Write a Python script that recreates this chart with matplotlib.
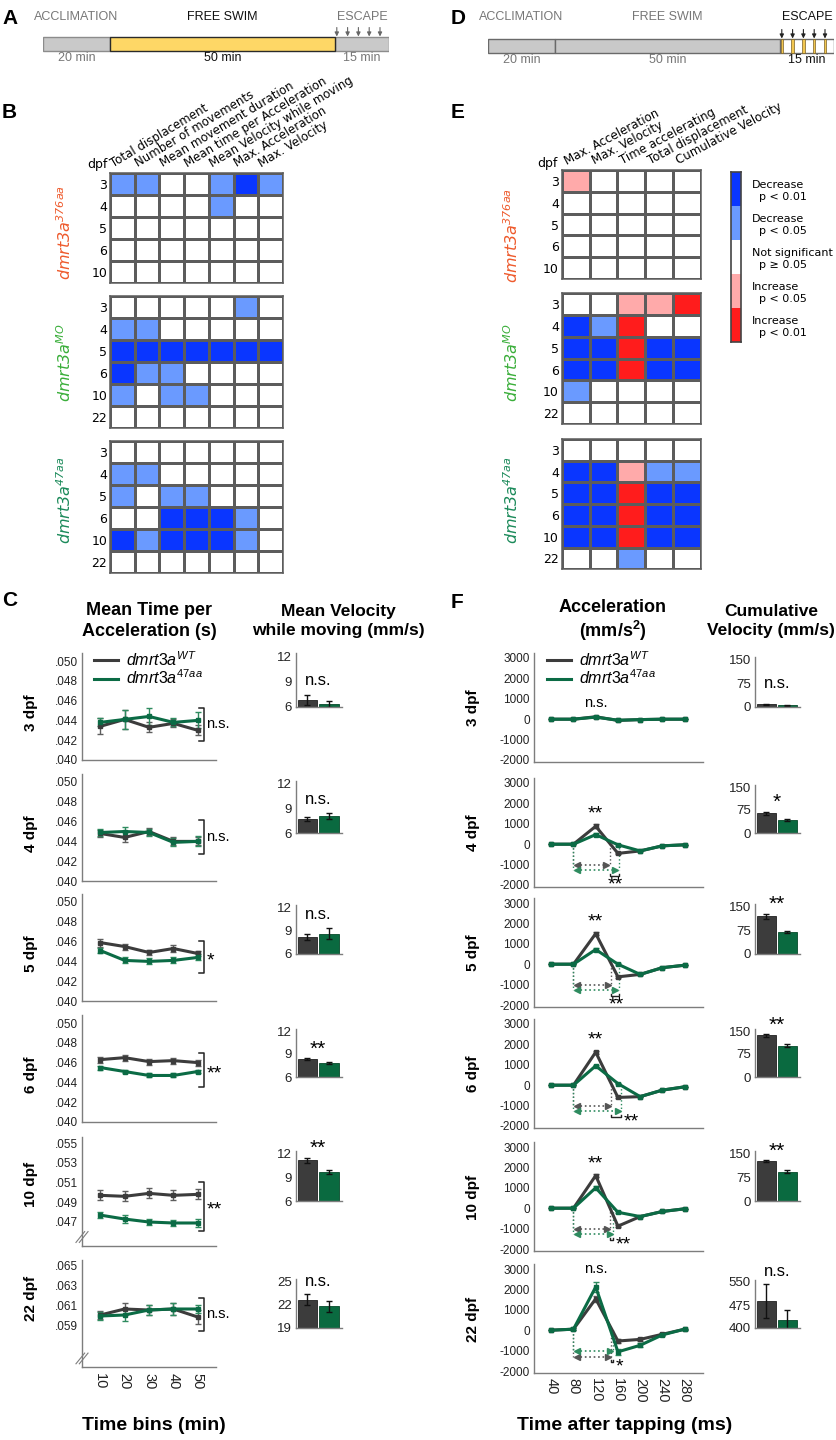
import numpy as np
import matplotlib
matplotlib.use('Agg')
import matplotlib.pyplot as plt
from matplotlib.colors import ListedColormap, BoundaryNorm
from matplotlib import font_manager

plt.rcParams['font.family'] = ['Liberation Sans', 'DejaVu Sans']
plt.rcParams['axes.unicode_minus'] = False
plt.rcParams['mathtext.fontset'] = 'custom'
plt.rcParams['mathtext.rm'] = 'Liberation Sans'
plt.rcParams['mathtext.it'] = 'Liberation Sans:italic'
plt.rcParams['mathtext.bf'] = 'Liberation Sans:bold'
plt.rcParams['mathtext.sf'] = 'DejaVu Sans:italic'

installed = set(f.name for f in font_manager.fontManager.ttflist)
narrow = 'Liberation Sans Narrow' if 'Liberation Sans Narrow' in installed else 'Liberation Sans'
tl_size = 10 if narrow == 'Liberation Sans Narrow' else 9

# ---------------- data ----------------
phases = ['ACCLIMATION', 'FREE SWIM', 'ESCAPE']
phase_min = [20, 50, 15]
tap_min = [0.5, 3.5, 6.5, 9.5, 12.5]      # taps, minutes into escape phase

free_params = ['Total displacement', 'Number of movements', 'Mean movement duration',
               'Mean time per Acceleration', 'Mean Velocity while moving',
               'Max. Acceleration', 'Max. Velocity']
esc_params = ['Max. Acceleration', 'Max. Velocity', 'Time accelerating',
              'Total displacement', 'Cumulative Velocity']
days_376 = ['3', '4', '5', '6', '10']
days_all = ['3', '4', '5', '6', '10', '22']

# -2 decrease p<0.01, -1 decrease p<0.05, 0 n.s., 1 increase p<0.05, 2 increase p<0.01
free_376 = [[-1, -1, 0, 0, -1, -2, -1],
            [0, 0, 0, 0, -1, 0, 0],
            [0, 0, 0, 0, 0, 0, 0],
            [0, 0, 0, 0, 0, 0, 0],
            [0, 0, 0, 0, 0, 0, 0]]
free_mo = [[0, 0, 0, 0, 0, -1, 0],
           [-1, -1, 0, 0, 0, 0, 0],
           [-2, -2, -2, -2, -2, -2, -2],
           [-2, -1, -1, 0, 0, 0, 0],
           [-1, 0, -1, -1, 0, 0, 0],
           [0, 0, 0, 0, 0, 0, 0]]
free_47 = [[0, 0, 0, 0, 0, 0, 0],
           [-1, -1, 0, 0, 0, 0, 0],
           [-1, 0, -1, -1, 0, 0, 0],
           [0, 0, -2, -2, -2, -1, 0],
           [-2, -1, -2, -2, -2, -1, 0],
           [0, 0, 0, 0, 0, 0, 0]]
esc_376 = [[1, 0, 0, 0, 0],
           [0, 0, 0, 0, 0],
           [0, 0, 0, 0, 0],
           [0, 0, 0, 0, 0],
           [0, 0, 0, 0, 0]]
esc_mo = [[0, 0, 1, 1, 2],
          [-2, -1, 2, 0, 0],
          [-2, -2, 2, -2, -2],
          [-2, -2, 2, -2, -2],
          [-1, 0, 0, 0, 0],
          [0, 0, 0, 0, 0]]
esc_47 = [[0, 0, 0, 0, 0],
          [-2, -2, 1, -1, -1],
          [-2, -2, 2, -2, -2],
          [-2, -2, 2, -2, -2],
          [-2, -2, 2, -2, -2],
          [0, 0, -1, 0, 0]]
sig_labels = ['Decrease\n  p < 0.01', 'Decrease\n  p < 0.05', 'Not significant\n  p \u2265 0.05',
              'Increase\n  p < 0.05', 'Increase\n  p < 0.01']

line_names = [r'$\mathsf{dmrt3a}^{\mathsf{376aa}}$', r'$\mathsf{dmrt3a}^{\mathsf{MO}}$',
              r'$\mathsf{dmrt3a}^{\mathsf{47aa}}$']
line_cols = ['#ee5a2c', '#3aae3a', '#1b8a5a']

dpf_rows = ['3 dpf', '4 dpf', '5 dpf', '6 dpf', '10 dpf', '22 dpf']

# C: mean time per acceleration (s), 10-min bins
bins = [10, 20, 30, 40, 50]
mtpa_wt = [[0.0434, 0.0441, 0.0433, 0.0437, 0.0430],
           [0.0448, 0.0444, 0.0450, 0.0440, 0.0440],
           [0.0459, 0.0455, 0.0449, 0.0453, 0.0448],
           [0.0463, 0.0465, 0.0461, 0.0462, 0.0460],
           [0.0497, 0.0496, 0.0499, 0.0497, 0.0498],
           [0.0601, 0.0607, 0.0606, 0.0607, 0.0599]]
mtpa_wt_err = [[0.0008, 0.0010, 0.0005, 0.0004, 0.0005],
               [0.0004, 0.0005, 0.0004, 0.0004, 0.0004],
               [0.0004, 0.0003, 0.0003, 0.0004, 0.0003],
               [0.0003, 0.0003, 0.0003, 0.0003, 0.0003],
               [0.0005, 0.0005, 0.0005, 0.0005, 0.0005],
               [0.0004, 0.0006, 0.0005, 0.0006, 0.0007]]
mtpa_mut = [[0.0438, 0.0441, 0.0444, 0.0438, 0.0440],
            [0.0449, 0.0450, 0.0449, 0.0439, 0.0440],
            [0.0451, 0.0441, 0.0440, 0.0441, 0.0444],
            [0.0455, 0.0451, 0.0447, 0.0447, 0.0451],
            [0.0477, 0.0473, 0.0470, 0.0469, 0.0469],
            [0.0600, 0.0601, 0.0606, 0.0607, 0.0607]]
mtpa_mut_err = [[0.0004, 0.0010, 0.0009, 0.0004, 0.0008],
                [0.0004, 0.0005, 0.0004, 0.0004, 0.0005],
                [0.0003, 0.0003, 0.0003, 0.0003, 0.0003],
                [0.0002, 0.0002, 0.0002, 0.0002, 0.0002],
                [0.0003, 0.0004, 0.0003, 0.0003, 0.0004],
                [0.0004, 0.0006, 0.0005, 0.0006, 0.0004]]
mtpa_sig = ['n.s.', 'n.s.', '*', '**', '**', 'n.s.']
mtpa_span = [(0.0419, 0.0453), (0.0427, 0.0462), (0.0428, 0.0461),
             (0.0435, 0.0470), (0.0461, 0.0511), (0.0585, 0.0618)]

# C: mean velocity while moving (mm/s)
mvwm_wt = [6.8, 7.7, 8.2, 8.3, 11.1, 22.6]
mvwm_wt_err = [0.6, 0.25, 0.35, 0.12, 0.3, 0.7]
mvwm_mut = [6.4, 8.0, 8.6, 7.8, 9.6, 21.8]
mvwm_mut_err = [0.35, 0.35, 0.7, 0.1, 0.25, 0.7]
mvwm_sig = ['n.s.', 'n.s.', 'n.s.', '**', '**', 'n.s.']

# F: acceleration (mm/s^2) after tapping
t_ms = [40, 80, 120, 160, 200, 240, 280]
acc_wt = [[0, 0, 120, -60, -20, 0, 0],
          [0, 0, 880, -450, -330, -80, -30],
          [0, 0, 1500, -620, -500, -170, -50],
          [0, 0, 1620, -600, -560, -240, -80],
          [0, 0, 1600, -880, -410, -160, -30],
          [0, 50, 1540, -530, -450, -200, 50]]
acc_wt_err = [[10, 10, 40, 30, 10, 10, 10],
              [10, 10, 90, 40, 20, 10, 10],
              [10, 10, 80, 50, 30, 10, 10],
              [10, 10, 80, 50, 30, 10, 10],
              [10, 10, 80, 60, 30, 10, 10],
              [10, 40, 150, 120, 90, 40, 30]]
acc_mut = [[0, 0, 100, -50, -20, 0, 0],
           [0, 0, 470, -30, -330, -80, -30],
           [0, 0, 720, 0, -500, -170, -50],
           [0, 0, 950, 80, -560, -240, -80],
           [0, 0, 1000, -200, -410, -160, -30],
           [0, 50, 2120, -1060, -740, -230, 50]]
acc_mut_err = [[10, 10, 30, 30, 10, 10, 10],
               [10, 10, 60, 40, 20, 10, 10],
               [10, 10, 60, 40, 30, 10, 10],
               [10, 10, 60, 40, 30, 10, 10],
               [10, 10, 80, 50, 30, 10, 10],
               [10, 40, 250, 150, 100, 40, 30]]
acc_sig = ['n.s.', '**', '**', '**', '**', 'n.s.']
acc_onset = 80
acc_end_wt = [None, 145, 148, 148, 146, 148]
acc_end_mut = [None, 161, 161, 166, 152, 151]
acc_dur_sig = [None, '**', '**', '**', '**', '*']

# F: cumulative velocity (mm/s)
cv_wt = [8, 64, 120, 136, 127, 488]
cv_wt_err = [2, 6, 7, 4, 3, 55]
cv_mut = [6, 43, 70, 102, 93, 425]
cv_mut_err = [1.5, 4, 4, 5, 5, 33]
cv_sig = ['n.s.', '*', '**', '**', '**', 'n.s.']

# ---------------- figure ----------------
W, H = 837, 1440
fig = plt.figure(figsize=(W / 100, H / 100), dpi=100)

wt_col, mut_col = '#3c3c3c', '#0b6b45'
wt_ecol, mut_ecol = '#5e5e5e', '#2e8b5f'
spine_col = '#7d7d7d'


def px_axes(x0, y0, x1, y1):
    return fig.add_axes([x0 / W, 1 - y1 / H, (x1 - x0) / W, (y1 - y0) / H])


def ftext(x, y, s, **kw):
    return fig.text(x / W, 1 - y / H, s, **kw)


def ax_rows(x0, x1, py_hi, py_lo, v_lo, v_hi, ext_lo, ext_hi):
    k = (py_lo - py_hi) / (v_hi - v_lo)
    ax = px_axes(x0, py_hi - ext_hi * k, x1, py_lo + ext_lo * k)
    ax.set_ylim(v_lo - ext_lo, v_hi + ext_hi)
    return ax


# panel letters
for lab, x, y in [('A', 2, 18), ('B', 2, 112), ('C', 2, 600),
                  ('D', 451, 19), ('E', 451, 113), ('F', 451, 602)]:
    ftext(x, y, lab, fontsize=15, weight='bold', va='center', ha='left')

# ---------------- A / D timelines ----------------
seg_px = [67, 225, 54]   # schematic widths, not to scale


def timeline(x0, yc, fills, edges, name_cols, dur_cols, tap_col, stripes):
    ax = px_axes(x0, 5, x0 + sum(seg_px), 68)
    ax.set_xlim(0, sum(seg_px))
    ax.set_ylim(68, 5)
    ax.axis('off')
    lefts = np.concatenate([[0], np.cumsum(seg_px)[:-1]])
    for i in [0, 2, 1]:
        ax.barh(yc, seg_px[i], left=lefts[i], height=14, color=fills[i],
                edgecolor=edges[i], linewidth=1, zorder=2 + (i == 1))
    for i, (name, mins) in enumerate(zip(phases, phase_min)):
        cx = lefts[i] + seg_px[i] / 2
        ax.text(cx, 17, name, ha='center', va='center', color=name_cols[i],
                fontsize=tl_size, family=narrow)
        ax.text(cx, yc + 14, '%d min' % mins, ha='center', va='center', color=dur_cols[i],
                fontsize=tl_size, family=narrow)
    tap_x = lefts[2] + np.array(tap_min) / phase_min[2] * seg_px[2]
    if stripes:
        ax.bar(tap_x, 14, bottom=yc - 7, width=2.4, color='#f2c64f',
               edgecolor='#7a6025', linewidth=0.5, zorder=4)
    for x in tap_x:
        ax.annotate('', xy=(x, yc - 7.5), xytext=(x, yc - 16.5),
                    arrowprops=dict(arrowstyle='-|>', color=tap_col, lw=0.8,
                                    mutation_scale=6, shrinkA=0, shrinkB=0))


timeline(43, 44, ['#c9c9c9', '#fed766', '#c9c9c9'], ['#8c8c8c', '#2a2a2a', '#8c8c8c'],
         ['#777777', '#111111', '#777777'], ['#777777', '#111111', '#777777'],
         '#666666', False)
timeline(488, 46, ['#c9c9c9', '#c9c9c9', '#ffffff'], ['#6a6a6a', '#6a6a6a', '#6a6a6a'],
         ['#777777', '#777777', '#111111'], ['#777777', '#777777', '#111111'],
         '#222222', True)

# ---------------- B / E heatmaps ----------------
cmap = ListedColormap(['#0a36ff', '#6a9aff', '#ffffff', '#ffaaaa', '#ff1c1c'])
norm = BoundaryNorm([-2.5, -1.5, -0.5, 0.5, 1.5, 2.5], cmap.N)
grid_col = '#5c5c5c'


def heat(x0, x1, y0, y1, vals, days):
    ax = px_axes(x0, y0, x1, y1)
    v = np.array(vals)
    ax.pcolormesh(v, cmap=cmap, norm=norm, edgecolors=grid_col, linewidth=0.75)
    ax.set_xlim(0, v.shape[1])
    ax.set_ylim(v.shape[0], 0)
    ax.set_xticks([])
    ax.set_yticks(np.arange(len(days)) + 0.5)
    ax.set_yticklabels(days, family='DejaVu Sans', fontsize=9)
    ax.tick_params(length=0, pad=2)
    for s in ax.spines.values():
        s.set_color(grid_col)
        s.set_linewidth(1.1)
    return ax


b_blocks = [(172.7, 282.7, free_376, days_376), (295.7, 428.3, free_mo, days_all),
            (441, 573.3, free_47, days_all)]
e_blocks = [(170, 279, esc_376, days_376), (293.3, 424, esc_mo, days_all),
            (439, 569.3, esc_47, days_all)]
b_lab_y = [232, 363, 500]
e_lab_y = [235, 363, 500]

for k, (y0, y1, vals, days) in enumerate(b_blocks):
    ax = heat(110, 283, y0, y1, vals, days)
    if k == 0:
        for j, name in enumerate(free_params):
            ax.text(j + 0.2, -0.12, name, rotation=31, rotation_mode='anchor',
                    ha='left', va='bottom', fontsize=8.5, family='DejaVu Sans')
        ax.text(-0.08, -0.2, 'dpf', ha='right', va='baseline', fontsize=9, family='DejaVu Sans')
    ftext(65, b_lab_y[k], line_names[k], rotation=90, color=line_cols[k], fontsize=11.5,
          ha='center', va='center')

for k, (y0, y1, vals, days) in enumerate(e_blocks):
    ax = heat(561.7, 700.7, y0, y1, vals, days)
    if k == 0:
        for j, name in enumerate(esc_params):
            ax.text(j + 0.24, -0.12, name, rotation=28, rotation_mode='anchor',
                    ha='left', va='bottom', fontsize=8.5, family='DejaVu Sans')
        ax.text(-0.16, -0.15, 'dpf', ha='right', va='baseline', fontsize=9, family='DejaVu Sans')
    ftext(512, e_lab_y[k], line_names[k], rotation=90, color=line_cols[k], fontsize=11.5,
          ha='center', va='center')

# significance legend
lax = px_axes(731, 172, 741, 342)
lax.imshow(np.arange(-2, 3).reshape(-1, 1), cmap=cmap, norm=norm, aspect='auto')
lax.set_xticks([])
lax.set_yticks(range(5))
lax.set_yticklabels(sig_labels, family='DejaVu Sans', fontsize=8, linespacing=1.25)
lax.tick_params(left=False, right=True, labelleft=False, labelright=True, length=0, pad=8)
for s in lax.spines.values():
    s.set_color('#444444')
    s.set_linewidth(1.2)

# ---------------- C / F common ----------------


def style_ax(ax):
    for s in ['top', 'right']:
        ax.spines[s].set_visible(False)
    for s in ['left', 'bottom']:
        ax.spines[s].set_color(spine_col)
        ax.spines[s].set_linewidth(1)
    ax.tick_params(length=0, labelsize=8.5, pad=3, colors='#222222')


def bar_panel(ax, wt, wt_e, mut, mut_e, lo, hi, ticks, sig):
    ax.bar([0, 1], [wt, mut], width=0.9, bottom=0, color=[wt_col, '#0a6a40'],
           edgecolor=['#202020', '#064a2b'], linewidth=0.6)
    ax.errorbar([0, 1], [wt, mut], yerr=[wt_e, mut_e], fmt='none', ecolor='#111111',
                elinewidth=1, capsize=2.5, capthick=1)
    ax.set_xlim(-0.53, 1.6)
    ax.set_xticks([])
    ax.set_yticks(ticks)
    ax.set_yticklabels([str(t) for t in ticks])
    style_ax(ax)
    ax.tick_params(labelsize=9.5)
    span = hi - lo
    top = max(wt + wt_e, mut + mut_e)
    ty = max(top + 0.28 * span, lo + 0.5 * span)
    if sig == 'n.s.':
        ax.text(0.5, ty, sig, ha='center', va='center', fontsize=12, clip_on=False)
    else:
        ax.text(0.5, ty - 0.08 * span, sig, ha='center', va='center', fontsize=15, clip_on=False)


def add_legend(ax):
    ax.legend(handles=[plt.Line2D([], [], color=wt_col, lw=2.2),
                       plt.Line2D([], [], color=mut_col, lw=2.2)],
              labels=[r'$\mathit{dmrt3a}^{\mathit{WT}}$', r'$\mathit{dmrt3a}^{\mathit{47aa}}$'],
              loc='upper left', bbox_to_anchor=(0.04, 1.09), frameon=False, fontsize=11.5,
              handlelength=1.5, handletextpad=0.5, labelspacing=0.0, borderaxespad=0)


# ---------------- C ----------------
ftext(149, 621, 'Mean Time per\nAcceleration (s)', ha='center', va='center',
      fontsize=13, weight='bold', linespacing=1.25)
ftext(338, 621, 'Mean Velocity\nwhile moving (mm/s)', ha='center', va='center',
      fontsize=12.5, weight='bold', linespacing=1.3)

c_px = [(661, 760), (782, 881), (902, 1001), (1023, 1122), (1143, 1222), (1266, 1326)]
c_rng = [(0.040, 0.050)] * 4 + [(0.047, 0.055), (0.059, 0.065)]
c_ext = [(0, 0.0008)] * 4 + [(0.0024, 0.0006), (0.0041, 0.0006)]
cb_px = [(656, 707), (783, 833), (907, 954), (1031, 1077), (1153, 1201), (1281, 1328)]
cb_rng = [(6, 12)] * 5 + [(19, 25)]

for r in range(6):
    (ph, pl), (lo, hi), (el, eh) = c_px[r], c_rng[r], c_ext[r]
    ax = ax_rows(82, 216, ph, pl, lo, hi, el, eh)
    ax.errorbar(bins, mtpa_wt[r], yerr=mtpa_wt_err[r], color=wt_col, lw=2.2, ecolor=wt_ecol,
                elinewidth=1, capsize=2.5, capthick=1, marker='s', ms=2.5)
    ax.errorbar(bins, mtpa_mut[r], yerr=mtpa_mut_err[r], color=mut_col, lw=2.2, ecolor=mut_ecol,
                elinewidth=1, capsize=2.5, capthick=1, marker='s', ms=2.5)
    ax.set_xlim(2.5, 57.5)
    ticks = np.arange(lo, hi + 1e-9, 0.002)
    ax.set_yticks(ticks)
    ax.set_yticklabels([('%.3f' % t)[1:] for t in ticks])
    style_ax(ax)
    b0, b1 = mtpa_span[r]
    ax.plot([50.4, 52.6, 52.6, 50.4], [b1, b1, b0, b0], color='#222222', lw=1.1, clip_on=False)
    if mtpa_sig[r] == 'n.s.':
        ax.text(53.6, (b0 + b1) / 2, 'n.s.', ha='left', va='center', fontsize=10.5, clip_on=False)
    else:
        ax.text(53.6, (b0 + b1) / 2 - 0.0004, mtpa_sig[r], ha='left', va='center',
                fontsize=14, clip_on=False)
    if r >= 4:
        for dx in (0, 0.025):
            ax.plot([-0.045 + dx, 0.02 + dx], [0.03, 0.13], transform=ax.transAxes,
                    color=spine_col, lw=0.8, clip_on=False)
    if r == 5:
        ax.set_xticks(bins)
        ax.set_xticklabels([str(b) for b in bins], rotation=-90, fontsize=10.5)
        ax.tick_params(axis='x', pad=4)
    else:
        ax.set_xticks([])
    if r == 0:
        add_legend(ax)
    ftext(31, (ph + pl) / 2 + 2, dpf_rows[r], rotation=90, weight='bold', fontsize=11,
          ha='center', va='center')

    (th, tl), (blo, bhi) = cb_px[r], cb_rng[r]
    bax = ax_rows(296, 342, th, tl, blo, bhi, 0, 0.3)
    bar_panel(bax, mvwm_wt[r], mvwm_wt_err[r], mvwm_mut[r], mvwm_mut_err[r], blo, bhi,
              [blo, (blo + bhi) // 2, bhi], mvwm_sig[r])

ftext(154, 1426, 'Time bins (min)', ha='center', va='center', fontsize=14, weight='bold')

# ---------------- F ----------------
ftext(613, 621, 'Acceleration\n(mm/s$^\\mathbf{2}$)', ha='center', va='center',
      fontsize=13, weight='bold', linespacing=1.2)
ftext(771, 621, 'Cumulative\nVelocity (mm/s)', ha='center', va='center',
      fontsize=12.5, weight='bold', linespacing=1.3)

f_top = [658, 783, 903, 1024, 1147, 1269]
fb_px = [(660, 707), (787, 833), (907, 954), (1031, 1077), (1154, 1201), (1282, 1328)]
fb_rng = [(0, 150)] * 5 + [(400, 550)]

for r in range(6):
    ax = ax_rows(534, 703, f_top[r], f_top[r] + 102, -2000, 3000, 80, 230)
    ax.errorbar(t_ms, acc_wt[r], yerr=acc_wt_err[r], color=wt_col, lw=2.2, ecolor=wt_ecol,
                elinewidth=1, capsize=2, capthick=1, marker='s', ms=2.5)
    ax.errorbar(t_ms, acc_mut[r], yerr=acc_mut_err[r], color=mut_col, lw=2.2, ecolor=mut_ecol,
                elinewidth=1, capsize=2, capthick=1, marker='s', ms=2.5)
    ax.set_xlim(9, 313)
    ax.set_yticks(range(-2000, 3001, 1000))
    ax.set_yticklabels([str(v) for v in range(-2000, 3001, 1000)])
    style_ax(ax)
    peak = max(acc_wt[r][2] + acc_wt_err[r][2], acc_mut[r][2] + acc_mut_err[r][2])
    if acc_sig[r] == 'n.s.':
        ax.text(120, peak + 650, 'n.s.', ha='center', va='center', fontsize=10.5)
    else:
        ax.text(120, peak + 500, acc_sig[r], ha='center', va='center', fontsize=14)
    if acc_end_wt[r] is not None:
        ew, em = acc_end_wt[r], acc_end_mut[r]
        yw, ym = (-1000, -1270) if r < 5 else (-1320, -1030)
        for xe, ya, col in [(ew, yw, '#555555'), (em, ym, mut_ecol)]:
            ax.plot([acc_onset, acc_onset], [0, ya], ls=':', color=col, lw=1)
            ax.plot([xe, xe], [0, ya], ls=':', color=col, lw=1)
            ax.plot([acc_onset + 4, xe - 4], [ya, ya], ls=':', color=col, lw=1.2)
            ax.plot([acc_onset + 6], [ya], marker='<', color=col, ms=4)
            ax.plot([xe - 6], [ya], marker='>', color=col, ms=4)
        yb = -1580
        ax.plot([ew, ew, em, em], [yb + 130, yb, yb, yb + 130], color='#222222', lw=1)
        if r in (1, 2):
            ax.text((ew + em) / 2 + 2, yb - 420, acc_dur_sig[r], ha='center', va='center',
                    fontsize=14)
        else:
            ax.text(em + 4, yb - 200, acc_dur_sig[r], ha='left', va='center', fontsize=14)
    if r == 5:
        ax.set_xticks(t_ms)
        ax.set_xticklabels([str(t) for t in t_ms], rotation=-90, fontsize=10.5)
        ax.tick_params(axis='x', pad=4)
    else:
        ax.set_xticks([])
    if r == 0:
        add_legend(ax)
    ftext(473, f_top[r] + 50, dpf_rows[r], rotation=90, weight='bold', fontsize=11,
          ha='center', va='center')

    (th, tl), (blo, bhi) = fb_px[r], fb_rng[r]
    bax = ax_rows(755, 800, th, tl, blo, bhi, 0, 8)
    bar_panel(bax, cv_wt[r], cv_wt_err[r], cv_mut[r], cv_mut_err[r], blo, bhi,
              [blo, (blo + bhi) // 2, bhi], cv_sig[r])

ftext(625, 1426, 'Time after tapping (ms)', ha='center', va='center', fontsize=14, weight='bold')

fig.savefig('out.png', dpi=100)
